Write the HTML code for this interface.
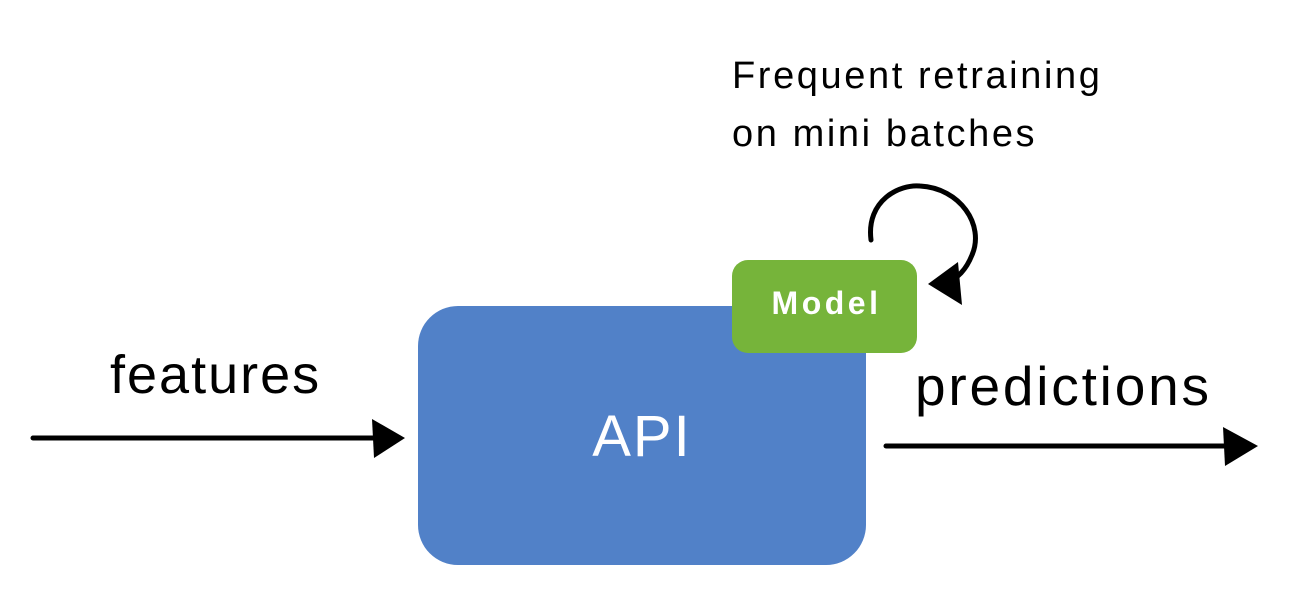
<!DOCTYPE html>
<html><head><style>
body{margin:0;background:#fff;width:1298px;height:610px;overflow:hidden;position:relative;font-family:"Liberation Sans",sans-serif}
.t{position:absolute;color:#000;white-space:nowrap}
</style></head><body>
<div style="position:absolute;left:418px;top:306px;width:448px;height:259px;background:#5181C8;border-radius:40px"></div>
<div style="position:absolute;left:732px;top:260px;width:185px;height:93px;background:#76B43A;border-radius:16px"></div>
<div class="t" style="left:418px;width:448px;top:403px;text-align:center;color:#fff;font-size:58px;letter-spacing:2px">API</div>
<div class="t" style="left:734px;width:185px;top:285px;text-align:center;color:#fff;font-size:32px;font-weight:bold;letter-spacing:3.5px">Model</div>
<div class="t" style="left:110px;top:344px;font-size:54px;letter-spacing:2px">features</div>
<div class="t" style="left:915px;top:354px;font-size:55px;letter-spacing:2.8px">predictions</div>
<div class="t" style="left:732px;top:47px;font-size:38px;line-height:58px;letter-spacing:2.6px">Frequent retraining<br>on mini batches</div>
<svg width="1298" height="610" style="position:absolute;left:0;top:0">
<g stroke="#000" stroke-width="5" fill="none" stroke-linecap="round">
<path d="M33 438 L380 438"/>
<path d="M886 446 L1232 446"/>
<path d="M871 240 C866 200 900 184 920 186 C960 188 985 225 972 255 C966 270 958 278 945 284"/>
</g>
<g fill="#000">
<path d="M372 419 L405 438 L374 458 Z"/>
<path d="M1223 427 L1258 446 L1225 466 Z"/>
<path d="M928 284 L958 262 L962 305 Z"/>
</g>
</svg>
</body></html>
